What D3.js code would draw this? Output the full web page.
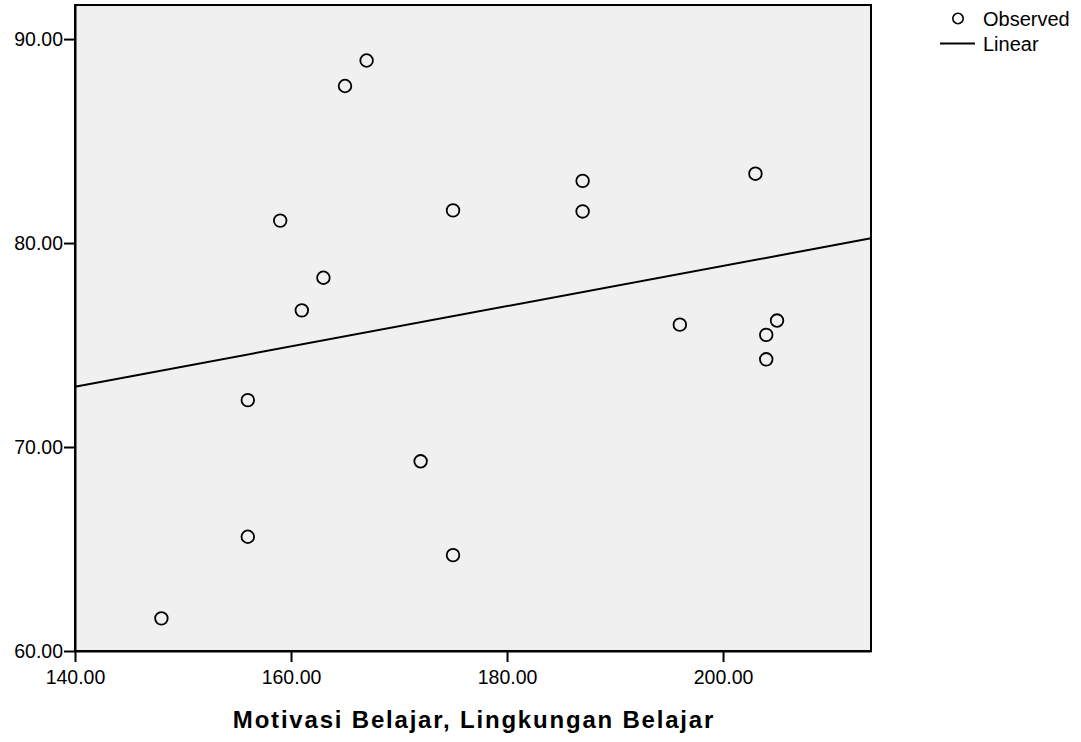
<!DOCTYPE html>
<html>
<head>
<meta charset="utf-8">
<script src="https://cdn.jsdelivr.net/npm/d3@7"></script>
<style>
  body { margin: 0; background: #fff; }
  text { font-family: "Liberation Sans", Arial, sans-serif; }
</style>
</head>
<body>
<svg id="chart" width="1081" height="742"></svg>
<script>
// observed values (x = Motivasi Belajar, Lingkungan Belajar)
var obsX = [148, 156, 156, 159, 161, 163, 165, 167, 172, 175, 175, 187, 187, 196, 203, 204, 204, 205];
var obsY = [61.6, 65.6, 72.3, 81.1, 76.7, 78.3, 87.7, 88.95, 69.3, 81.6, 64.7, 83.05, 81.55, 76.0, 83.4, 75.5, 74.3, 76.2];
// linear fit, end points
var fitX = [140, 213.7];
var fitY = [72.96, 80.23];
var xTicks = [140, 160, 180, 200];
var yTicks = [60, 70, 80, 90];
var legendLabels = ["Observed", "Linear"];

var plotLeft = 75, plotTop = 5, plotRight = 871, plotBottom = 651;

var svg = d3.select("#chart");

var x = d3.scaleLinear()
    .domain([140, 213.7])
    .range([plotLeft, plotRight]);

var y = d3.scaleLinear()
    .domain([60, 91.67])
    .range([plotBottom, plotTop]);

// plot background
svg.append("rect")
    .attr("x", plotLeft)
    .attr("y", plotTop)
    .attr("width", plotRight - plotLeft)
    .attr("height", plotBottom - plotTop)
    .attr("fill", "#f0f0f0")
    .attr("stroke", "#000")
    .attr("stroke-width", 2);

// axes
var xAxis = d3.axisBottom(x)
    .tickValues(xTicks)
    .tickFormat(d3.format(".2f"))
    .tickSize(11)
    .tickSizeOuter(0);

var yAxis = d3.axisLeft(y)
    .tickValues(yTicks)
    .tickFormat(d3.format(".2f"))
    .tickSize(11)
    .tickSizeOuter(0);

var gx = svg.append("g")
    .attr("transform", "translate(0," + plotBottom + ")")
    .call(xAxis);
var gy = svg.append("g")
    .attr("transform", "translate(" + plotLeft + ",0)")
    .call(yAxis);

[gx, gy].forEach(function(g){
    g.select(".domain").attr("stroke", "#000").attr("stroke-width", 2);
    g.selectAll(".tick line").attr("stroke", "#000").attr("stroke-width", 2);
    g.selectAll(".tick text")
        .attr("fill", "#000")
        .attr("font-size", 19.5)
        .attr("font-family", "Liberation Sans, Arial, sans-serif");
});
gx.selectAll(".tick text").attr("y", 19).attr("dy", "0.71em");
gy.selectAll(".tick text").attr("x", -12);

// fit line
var line = d3.line()
    .x(function(d){ return x(d[0]); })
    .y(function(d){ return y(d[1]); });

svg.append("path")
    .datum(d3.zip(fitX, fitY))
    .attr("d", line)
    .attr("fill", "none")
    .attr("stroke", "#000")
    .attr("stroke-width", 2);

// observed points
svg.selectAll("circle.obs")
    .data(d3.zip(obsX, obsY))
    .enter()
    .append("circle")
    .attr("class", "obs")
    .attr("cx", function(d){ return x(d[0]); })
    .attr("cy", function(d){ return y(d[1]); })
    .attr("r", 6.3)
    .attr("fill", "none")
    .attr("stroke", "#000")
    .attr("stroke-width", 1.8);

// x title
svg.append("text")
    .attr("x", (plotLeft + plotRight) / 2 + 1)
    .attr("y", 728)
    .attr("text-anchor", "middle")
    .attr("font-size", 24)
    .attr("font-weight", "bold")
    .attr("letter-spacing", 1.8)
    .text("Motivasi Belajar, Lingkungan Belajar");

// legend
var lg = svg.append("g");
lg.append("circle")
    .attr("cx", 958)
    .attr("cy", 18.5)
    .attr("r", 5.2)
    .attr("fill", "none")
    .attr("stroke", "#000")
    .attr("stroke-width", 1.6);
lg.append("line")
    .attr("x1", 940).attr("x2", 975)
    .attr("y1", 43.5).attr("y2", 43.5)
    .attr("stroke", "#000")
    .attr("stroke-width", 2);
lg.selectAll("text")
    .data(legendLabels)
    .enter()
    .append("text")
    .attr("x", 983)
    .attr("y", function(d, i){ return 26 + i * 25; })
    .attr("font-size", 20)
    .text(function(d){ return d; });
</script>
</body>
</html>
